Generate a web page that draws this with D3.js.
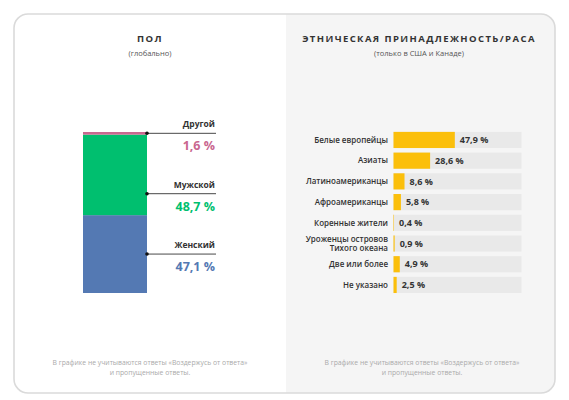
<!DOCTYPE html>
<html>
<head>
<meta charset="utf-8">
<script src="https://cdn.jsdelivr.net/npm/d3@7"></script>
<style>
  body { margin: 0; background: #fff; }
  text { font-family: "Open Sans", sans-serif; }
</style>
</head>
<body>
<div id="app"></div>
<script>
// gender (global)
let genderNames = ["Женский", "Мужской", "Другой"];
let genderValues = [47.1, 48.7, 1.6];
let genderColors = ["#5479b3", "#00bf6f", "#c9678f"];

// ethnicity (US and Canada only)
let raceNames = ["Белые европейцы", "Азиаты", "Латиноамериканцы", "Афроамериканцы",
    "Коренные жители", "Уроженцы островов\nТихого океана", "Две или более", "Не указано"];
let raceValues = [47.9, 28.6, 8.6, 5.8, 0.4, 0.9, 4.9, 2.5];

let footnote = ["В графике не учитываются ответы «Воздержусь от ответа»", "и пропущенные ответы."];

let fmt = v => String(v).replace(".", ",") + " %";

let svg = d3.select("#app")
  .append("svg")
    .attr("width", 569)
    .attr("height", 400)

// card + panels
let defs = svg.append("defs")
defs.append("clipPath").attr("id", "card")
  .append("rect")
    .attr("x", 14).attr("y", 14)
    .attr("width", 541).attr("height", 379)
    .attr("rx", 14)

let card = svg.append("g").attr("clip-path", "url(#card)")
card.append("rect")
    .attr("x", 14).attr("y", 14)
    .attr("width", 541).attr("height", 379)
    .attr("fill", "#fff")
card.append("rect")
    .attr("x", 286).attr("y", 14)
    .attr("width", 269).attr("height", 379)
    .attr("fill", "#f5f5f5")
svg.append("rect")
    .attr("x", 14).attr("y", 14)
    .attr("width", 541).attr("height", 379)
    .attr("rx", 14)
    .attr("fill", "none")
    .attr("stroke", "#dadada")
    .attr("stroke-width", 1.6)

// titles
function titles(cx, title, sub) {
    svg.append("text")
        .attr("x", cx).attr("y", 42)
        .attr("text-anchor", "middle")
        .attr("font-size", 9.5)
        .attr("font-weight", 700)
        .attr("letter-spacing", 1.4)
        .attr("fill", "#333")
        .text(title)
    svg.append("text")
        .attr("x", cx).attr("y", 56)
        .attr("text-anchor", "middle")
        .attr("font-size", 7.5)
        .attr("fill", "#555")
        .text(sub)
}
titles(150, "ПОЛ", "(глобально)")
titles(419, "ЭТНИЧЕСКАЯ ПРИНАДЛЕЖНОСТЬ/РАСА", "(только в США и Канаде)")

// footnotes
function notes(cx) {
    svg.selectAll(null)
      .data(footnote)
      .enter()
      .append("text")
        .attr("x", cx)
        .attr("y", (d, i) => 365 + i * 9.5)
        .attr("text-anchor", "middle")
        .attr("font-size", 6.8)
        .attr("fill", "#aaa")
        .text(d => d)
}
notes(150)
notes(422)

// ---- gender stacked bar
let total = d3.sum(genderValues);
let gy = d3.scaleLinear().domain([0, total]).range([293, 132]);
let starts = d3.cumsum([0].concat(genderValues)).slice(0, genderValues.length);
let gender = genderNames.map((name, i) => ({
    name: name, val: genderValues[i], y0: starts[i], y1: starts[i] + genderValues[i], color: genderColors[i]
}));

svg.append("g")
  .selectAll("rect")
  .data(gender)
  .enter()
  .append("rect")
    .attr("x", 83)
    .attr("width", 64)
    .attr("y", d => gy(d.y1))
    .attr("height", d => gy(d.y0) - gy(d.y1))
    .attr("fill", d => d.color)

// label positions: first and last at segment centers, others evenly between
let yFirst = gy((gender[0].y0 + gender[0].y1) / 2);
let yLast = gy((gender[gender.length - 1].y0 + gender[gender.length - 1].y1) / 2);
gender.forEach((d, i) => { d.ly = yFirst + (yLast - yFirst) * i / (gender.length - 1); });

let glab = svg.append("g")
  .selectAll("g")
  .data(gender)
  .enter()
  .append("g")
glab.append("line")
    .attr("x1", 147).attr("x2", 216)
    .attr("y1", d => d.ly).attr("y2", d => d.ly)
    .attr("stroke", "#333")
    .attr("stroke-width", 0.9)
glab.append("circle")
    .attr("cx", 147).attr("cy", d => d.ly)
    .attr("r", 1.8)
    .attr("fill", "#111")
glab.append("text")
    .attr("x", 215).attr("y", d => d.ly - 6)
    .attr("text-anchor", "end")
    .attr("font-size", 8.5)
    .attr("font-weight", 700)
    .attr("fill", "#333")
    .text(d => d.name)
glab.append("text")
    .attr("x", 215).attr("y", d => d.ly + 17)
    .attr("text-anchor", "end")
    .attr("font-size", 12.5)
    .attr("font-weight", 700)
    .attr("fill", d => d.color)
    .text(d => fmt(d.val))

// ---- ethnicity bars
let ry = d3.scaleBand()
    .domain(raceNames)
    .range([129.6, 295.3])
    .paddingInner(0.22)
    .paddingOuter(0.11);
let rx = d3.scaleLinear().domain([0, 100]).range([393.5, 521.5]);

let rows = svg.append("g")
  .selectAll("g")
  .data(raceNames.map((n, i) => ({name: n, val: raceValues[i]})))
  .enter()
  .append("g")
    .attr("transform", d => "translate(0," + ry(d.name) + ")")

rows.append("rect")
    .attr("x", rx(0))
    .attr("width", rx(100) - rx(0))
    .attr("height", ry.bandwidth())
    .attr("fill", "#e9e9e9")
rows.append("rect")
    .attr("x", rx(0))
    .attr("width", d => rx(d.val) - rx(0))
    .attr("height", ry.bandwidth())
    .attr("fill", "#fbbf0b")
rows.append("text")
    .attr("x", d => rx(d.val) + 5)
    .attr("y", ry.bandwidth() / 2)
    .attr("dy", "0.35em")
    .attr("font-size", 9)
    .attr("font-weight", 700)
    .attr("fill", "#333")
    .text(d => fmt(d.val))

let rlab = rows.append("text")
    .attr("x", 388)
    .attr("text-anchor", "end")
    .attr("font-size", 8)
    .attr("font-weight", 600)
    .attr("fill", "#333")
rlab.each(function(d) {
    let lines = d.name.split("\n");
    let t = d3.select(this);
    lines.forEach((l, i) => {
        t.append("tspan")
            .attr("x", 388)
            .attr("y", ry.bandwidth() / 2 + (i - (lines.length - 1) / 2) * 9.5)
            .attr("dy", "0.35em")
            .text(l)
    })
})
</script>
</body>
</html>
